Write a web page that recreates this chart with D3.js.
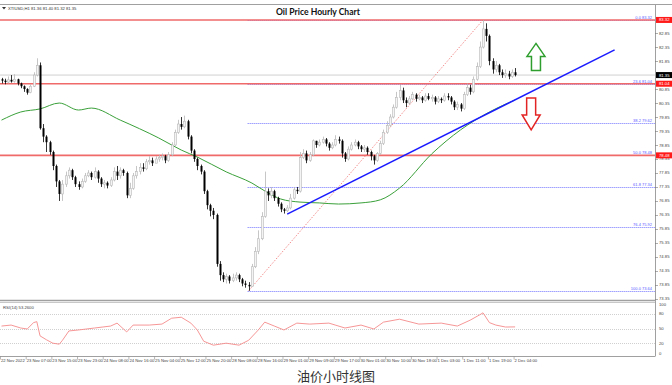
<!DOCTYPE html>
<html>
<head>
<meta charset="utf-8">
<script src="https://cdn.jsdelivr.net/npm/d3@7"></script>
<style>
  body { margin: 0; background: #fff; }
  svg { display: block; font-family: "Liberation Sans", Arial, sans-serif; }
</style>
</head>
<body>
<div id="chart"></div>
<script>
// hourly XTIUSD candles, open = previous close
var firstOpen = 81.20;
var closes = [
  81.15, 81.10, 81.18, 81.12, 81.20, 81.05, 80.95, 80.85, 80.72, 80.95,
  81.35, 81.70, 79.45, 79.15, 78.95, 78.60, 78.10, 77.55, 77.10, 77.45,
  77.75, 77.95, 77.70, 77.45, 77.35, 77.55, 77.75, 77.85, 77.70, 77.90,
  77.65, 77.45, 77.50, 77.40, 77.60, 77.90, 77.75, 77.95, 77.85, 77.05,
  77.30, 77.75, 77.90, 78.05, 78.00, 78.25, 78.30, 78.20, 78.35, 78.40,
  78.45, 78.30, 78.50, 78.85, 79.30, 79.60, 79.50, 79.70, 79.15, 78.65,
  78.35, 78.10, 77.90, 77.20, 76.70, 76.50, 76.35, 74.60, 74.20, 74.05,
  74.15, 74.00, 74.10, 74.20, 74.05, 73.90, 73.85, 73.80, 74.50, 75.05,
  75.50, 76.30, 77.20, 77.05, 77.20, 76.95, 76.75, 76.55, 76.50, 76.60,
  76.95, 77.25, 77.20, 78.40, 78.55, 78.30, 78.50, 79.00, 78.85, 78.95,
  79.05, 78.90, 78.75, 78.85, 79.05, 79.00, 78.55, 78.35, 78.70, 78.85,
  78.95, 78.80, 78.70, 78.75, 78.60, 78.45, 78.30, 78.55, 78.90, 79.30,
  79.55, 79.85, 80.20, 80.55, 80.80, 80.45, 80.35, 80.50, 80.65, 80.50,
  80.55, 80.45, 80.60, 80.50, 80.55, 80.40, 80.50, 80.45, 80.60, 80.55,
  80.40, 80.20, 80.30, 80.15, 80.65, 80.90, 80.75, 81.20, 81.65, 82.35,
  83.00, 82.75, 81.85, 81.55, 81.70, 81.45, 81.35, 81.40, 81.30, 81.45,
  81.35
];
var highs = [
  81.25, 81.22, 81.30, 81.35, 81.38, 81.22, 81.08, 80.98, 80.88, 81.02,
  81.45, 81.95, 81.80, 79.60, 79.20, 79.00, 78.65, 78.15, 77.60, 77.60,
  77.90, 78.05, 78.00, 77.75, 77.55, 77.65, 77.85, 77.95, 77.90, 78.05,
  77.95, 77.70, 77.60, 77.55, 77.70, 78.05, 78.10, 78.05, 78.00, 77.90,
  77.50, 77.85, 78.10, 78.20, 78.20, 78.35, 78.45, 78.40, 78.45, 78.50,
  78.55, 78.50, 78.60, 78.95, 79.40, 79.75, 79.85, 79.90, 79.75, 79.20,
  78.70, 78.40, 78.15, 77.95, 77.25, 76.75, 76.60, 76.40, 74.70, 74.30,
  74.25, 74.20, 74.25, 74.30, 74.25, 74.10, 74.00, 73.95, 74.60, 75.20,
  75.80, 76.45, 77.90, 77.30, 77.35, 77.25, 77.00, 76.80, 76.60, 76.70,
  77.10, 77.35, 77.35, 78.60, 78.70, 78.65, 78.60, 79.05, 79.00, 79.05,
  79.15, 79.10, 78.95, 78.95, 79.20, 79.15, 79.05, 78.60, 78.80, 78.95,
  79.05, 79.00, 78.85, 78.85, 78.80, 78.65, 78.50, 78.60, 79.00, 79.40,
  79.70, 79.95, 80.30, 80.75, 81.00, 80.90, 80.55, 80.60, 80.75, 80.70,
  80.65, 80.60, 80.70, 80.70, 80.65, 80.60, 80.60, 80.55, 80.70, 80.70,
  80.60, 80.45, 80.40, 80.35, 80.75, 81.05, 81.00, 81.30, 81.80, 82.55,
  83.32, 83.20, 82.80, 81.95, 81.85, 81.75, 81.55, 81.55, 81.50, 81.55,
  81.60
];
var lows = [
  81.05, 81.02, 81.05, 81.08, 81.08, 80.98, 80.88, 80.75, 80.65, 80.70,
  80.92, 81.30, 79.40, 78.95, 78.60, 78.50, 77.95, 77.35, 76.85, 76.85,
  77.35, 77.65, 77.60, 77.35, 77.25, 77.30, 77.50, 77.70, 77.60, 77.65,
  77.50, 77.35, 77.30, 77.30, 77.35, 77.55, 77.60, 77.65, 77.75, 76.95,
  76.95, 77.25, 77.65, 77.80, 77.90, 77.95, 78.15, 78.10, 78.20, 78.25,
  78.30, 78.20, 78.25, 78.45, 78.80, 79.25, 79.40, 79.45, 79.05, 78.55,
  78.25, 77.95, 77.80, 77.10, 76.55, 76.30, 76.20, 74.50, 74.00, 73.95,
  73.90, 73.90, 73.95, 74.00, 73.95, 73.80, 73.75, 73.64, 73.80, 74.45,
  74.95, 75.45, 76.25, 76.85, 76.95, 76.85, 76.65, 76.45, 76.40, 76.45,
  76.55, 76.90, 77.10, 77.15, 78.35, 78.20, 78.25, 78.45, 78.75, 78.80,
  78.90, 78.80, 78.65, 78.70, 78.80, 78.90, 78.40, 78.25, 78.30, 78.65,
  78.80, 78.70, 78.60, 78.60, 78.50, 78.30, 78.15, 78.25, 78.50, 78.85,
  79.25, 79.50, 79.80, 80.15, 80.45, 80.35, 80.20, 80.30, 80.45, 80.40,
  80.45, 80.35, 80.40, 80.45, 80.40, 80.30, 80.35, 80.35, 80.40, 80.45,
  80.30, 80.10, 80.10, 80.05, 80.10, 80.60, 80.65, 80.70, 81.15, 81.60,
  82.30, 82.55, 81.70, 81.40, 81.45, 81.35, 81.25, 81.25, 81.20, 81.25,
  81.30
];

// green moving average, read at a few bars
var maBars   = [0, 6, 12, 18, 24, 28, 37, 49, 56, 61, 70, 78, 83, 87, 93, 99, 105, 112, 118, 124, 134, 143, 152, 160];
var maValues = [79.74, 80.03, 80.14, 80.35, 80.10, 80.17, 79.74, 79.10, 78.67, 78.42, 77.89, 77.49, 77.14, 76.92, 76.81, 76.78, 76.74, 76.78, 76.89, 77.31, 78.53, 79.39, 80.03, 80.46];

// RSI(14), read at a few bars
var rsiBars   = [0, 3, 6, 8, 10, 11, 12, 14, 16, 18, 19, 21, 24, 29, 34, 36, 39, 41, 46, 50, 53, 56, 59, 61, 63, 66, 70, 74, 77, 80, 82, 85, 88, 92, 96, 102, 107, 112, 116, 119, 124, 130, 137, 142, 146, 149, 150, 152, 154, 157, 160];
var rsiValues = [55, 57, 51, 49, 62, 64, 35, 27, 20, 18, 26, 45, 47, 51, 55, 61, 43, 57, 57, 59, 71, 73, 61, 47, 24, 16, 20, 16, 26, 47, 63, 55, 47, 61, 59, 61, 51, 57, 49, 63, 69, 59, 61, 55, 67, 78, 82, 62, 57, 53, 53.26];

// fibonacci swing: low bar 77, high bar 150
var fibLow = { bar: 77, price: 73.64 };
var fibHigh = { bar: 150, price: 83.32 };
var fibRatios = [0.0, 23.6, 38.2, 50.0, 61.8, 76.4, 100.0];
var redLevels = [83.32, 81.04, 78.48];
var lastPrice = 81.35;

// trend line (bar, price)
var trendStart = { bar: 89, price: 76.38 };
var trendEnd = { bar: 191, price: 82.25 };

var priceTicks = [73.35, 73.85, 74.35, 74.85, 75.35, 75.85, 76.35, 76.85, 77.35, 77.85, 78.35, 78.85, 79.35, 79.85, 80.35, 80.85, 81.85, 82.35, 82.85];
var rsiTicks = [0, 20, 50, 80, 100];
var timeLabels = ["22 Nov 2022", "23 Nov 07:00", "23 Nov 15:00", "23 Nov 23:00", "24 Nov 08:00", "24 Nov 16:00",
  "25 Nov 04:00", "25 Nov 12:00", "25 Nov 20:00", "28 Nov 08:00", "28 Nov 16:00", "29 Nov 01:00", "29 Nov 09:00",
  "29 Nov 17:00", "30 Nov 01:00", "30 Nov 10:00", "30 Nov 18:00", "1 Dec 03:00", "1 Dec 11:00", "1 Dec 19:00", "2 Dec 04:00"];

var W = 672, H = 385;
var plotRight = 655;

var svg = d3.select("#chart").append("svg")
    .attr("width", W)
    .attr("height", H);

svg.append("rect").attr("width", W).attr("height", H).attr("fill", "#fff");

var x = d3.scaleLinear().domain([0, 160]).range([1.5, 515.1]);
var y = d3.scaleLinear().domain([73.31, 83.89]).range([300, 4]);
var yr = d3.scaleLinear().domain([0, 100]).range([353, 304]);

// candles data table
var candles = closes.map(function(c, i) {
    return { i: i, o: i === 0 ? firstOpen : closes[i - 1], h: highs[i], l: lows[i], c: c };
});

// panel frames
svg.append("line").attr("x1", 0).attr("x2", W).attr("y1", 4.5).attr("y2", 4.5)
    .attr("stroke", "#a0a0a0");
svg.append("line").attr("x1", 0).attr("x2", plotRight).attr("y1", 300.5).attr("y2", 300.5)
    .attr("stroke", "#a0a0a0").attr("stroke-width", 1.5);
svg.append("line").attr("x1", 0).attr("x2", plotRight).attr("y1", 302.5).attr("y2", 302.5)
    .attr("stroke", "#c8c8c8");
svg.append("line").attr("x1", 0).attr("x2", plotRight).attr("y1", 356.5).attr("y2", 356.5)
    .attr("stroke", "#a0a0a0");
svg.append("line").attr("x1", plotRight + 0.5).attr("x2", plotRight + 0.5).attr("y1", 4.5).attr("y2", 356.5)
    .attr("stroke", "#a0a0a0");

// header and title
svg.append("text").attr("x", 8).attr("y", 10).attr("font-size", 4.2).attr("fill", "#333")
    .text("XTIUSD,H1  81.36 81.40 81.32 81.35");
svg.append("path").attr("d", "M2,7 L6,7 L4,9.5 Z").attr("fill", "#333");
svg.append("text").attr("x", 318).attr("y", 15).attr("text-anchor", "middle")
    .attr("font-family", "Lato, sans-serif").attr("font-weight", "bold").attr("font-size", 8.6)
    .attr("fill", "#111").text("Oil Price Hourly Chart");

// last price grey line
svg.append("line").attr("x1", 0).attr("x2", plotRight).attr("y1", y(lastPrice)).attr("y2", y(lastPrice))
    .attr("stroke", "#d0d0d0").attr("stroke-width", 1);

// fib lines
var fibs = fibRatios.map(function(r) {
    return { r: r, p: fibHigh.price - (fibHigh.price - fibLow.price) * r / 100 };
});
svg.selectAll(".fib").data(fibs).enter().append("line")
    .attr("class", "fib")
    .attr("x1", x(fibLow.bar) - 1).attr("x2", plotRight)
    .attr("y1", function(d) { return Math.round(y(d.p)) + 0.5; })
    .attr("y2", function(d) { return Math.round(y(d.p)) + 0.5; })
    .attr("stroke", "#7070ff").attr("stroke-width", 1).attr("stroke-dasharray", "1,1");

// red horizontal levels
svg.selectAll(".lvl").data(redLevels).enter().append("line")
    .attr("x1", 0).attr("x2", plotRight)
    .attr("y1", function(d) { return y(d); }).attr("y2", function(d) { return y(d); })
    .attr("stroke", "#f06a6a").attr("stroke-width", 1.6);

svg.selectAll(".fibLabel").data(fibs).enter().append("text")
    .attr("x", plotRight - 3)
    .attr("y", function(d) { return Math.round(y(d.p)) - 0.8; })
    .attr("text-anchor", "end").attr("font-size", 4).attr("fill", "#5a5aff")
    .text(function(d) { return d.r.toFixed(1) + " " + d.p.toFixed(2); });

// fib diagonal
svg.append("line")
    .attr("x1", x(fibLow.bar)).attr("y1", y(fibLow.price))
    .attr("x2", x(fibHigh.bar)).attr("y2", y(fibHigh.price))
    .attr("stroke", "#f07070").attr("stroke-width", 0.8).attr("stroke-dasharray", "1.5,1.5");

// moving average
var maLine = d3.line()
    .x(function(d) { return x(d[0]); })
    .y(function(d) { return y(d[1]); })
    .curve(d3.curveMonotoneX);
svg.append("path")
    .datum(maBars.map(function(b, k) { return [b, maValues[k]]; }))
    .attr("d", maLine)
    .attr("fill", "none").attr("stroke", "#3aa03a").attr("stroke-width", 1);

// candles
var up = function(d) { return d.c >= d.o; };
svg.selectAll(".wick").data(candles).enter().append("line")
    .attr("x1", function(d) { return Math.round(x(d.i)) + 0.5; })
    .attr("x2", function(d) { return Math.round(x(d.i)) + 0.5; })
    .attr("y1", function(d) { return y(d.h); })
    .attr("y2", function(d) { return y(d.l); })
    .attr("stroke", function(d) { return up(d) ? "#b8b8b8" : "#000"; })
    .attr("stroke-width", 0.8);
svg.selectAll(".body").data(candles).enter().append("rect")
    .attr("x", function(d) { return Math.round(x(d.i)) - 0.5; })
    .attr("width", 2)
    .attr("y", function(d) { return y(Math.max(d.o, d.c)); })
    .attr("height", function(d) { return Math.max(0.8, Math.abs(y(d.o) - y(d.c))); })
    .attr("fill", function(d) { return up(d) ? "#f4f4f4" : "#000"; })
    .attr("stroke", function(d) { return up(d) ? "#b8b8b8" : "none"; })
    .attr("stroke-width", 0.6);

// blue trend line
svg.append("line")
    .attr("x1", x(trendStart.bar)).attr("y1", y(trendStart.price))
    .attr("x2", x(trendEnd.bar)).attr("y2", y(trendEnd.price))
    .attr("stroke", "#1a1aff").attr("stroke-width", 1.5);

// arrows: tip point, direction, head and total length in px
function arrow(cx, tipY, dir, headLen, totalLen, color) {
    var hw = 9, sw = 4.5, head = headLen * dir, len = totalLen * dir;
    var d = "M" + cx + "," + tipY +
        " L" + (cx + hw) + "," + (tipY + head) +
        " L" + (cx + sw) + "," + (tipY + head) +
        " L" + (cx + sw) + "," + (tipY + len) +
        " L" + (cx - sw) + "," + (tipY + len) +
        " L" + (cx - sw) + "," + (tipY + head) +
        " L" + (cx - hw) + "," + (tipY + head) + " Z";
    svg.append("path").attr("d", d).attr("fill", "#fff").attr("stroke", color).attr("stroke-width", 1.5);
}
arrow(x(166.5), y(82.48), 1, 13, 27, "#2e9e2e");
arrow(x(165), y(79.39), -1, 15, 32, "#e32424");

// right price axis
var axisG = svg.append("g");
axisG.selectAll(".pt").data(priceTicks).enter().append("line")
    .attr("x1", plotRight).attr("x2", plotRight + 3)
    .attr("y1", function(d) { return Math.round(y(d)) + 0.5; })
    .attr("y2", function(d) { return Math.round(y(d)) + 0.5; })
    .attr("stroke", "#777").attr("stroke-width", 0.6);
axisG.selectAll(".pl").data(priceTicks).enter().append("text")
    .attr("x", plotRight + 4).attr("y", function(d) { return y(d) + 1.5; })
    .attr("font-size", 4.2).attr("fill", "#444")
    .text(function(d) { return d.toFixed(2); });

var boxes = redLevels.map(function(p) { return { p: p, c: "#ff1a1a" }; })
    .concat([{ p: lastPrice, c: "#000" }]);
axisG.selectAll(".box").data(boxes).enter().append("rect")
    .attr("x", plotRight + 1).attr("width", W - plotRight - 1)
    .attr("y", function(d) { return y(d.p) - 3; }).attr("height", 6)
    .attr("fill", function(d) { return d.c; });
axisG.selectAll(".boxt").data(boxes).enter().append("text")
    .attr("x", plotRight + 4).attr("y", function(d) { return y(d.p) + 1.5; })
    .attr("font-size", 4.2).attr("fill", "#fff")
    .text(function(d) { return d.p.toFixed(2); });

// RSI panel
svg.selectAll(".rl").data([20, 50, 80]).enter().append("line")
    .attr("x1", 0).attr("x2", plotRight)
    .attr("y1", function(d) { return Math.round(yr(d)) + 0.5; })
    .attr("y2", function(d) { return Math.round(yr(d)) + 0.5; })
    .attr("stroke", "#c4c4c4").attr("stroke-width", 0.8).attr("stroke-dasharray", "1,1");
var rsiLine = d3.line()
    .x(function(d) { return x(d[0]); })
    .y(function(d) { return yr(d[1]); })
    .curve(d3.curveLinear);
svg.append("path")
    .datum(rsiBars.map(function(b, k) { return [b, rsiValues[k]]; }))
    .attr("d", rsiLine)
    .attr("fill", "none").attr("stroke", "#f58a8a").attr("stroke-width", 0.9);
svg.append("text").attr("x", 3).attr("y", 309).attr("font-size", 4.2).attr("fill", "#444")
    .text("RSI(14) 53.2600");
svg.selectAll(".rt").data(rsiTicks).enter().append("text")
    .attr("x", plotRight + 4).attr("y", function(d) { return yr(d) + 1.5; })
    .attr("font-size", 4.2).attr("fill", "#444")
    .text(function(d) { return d; });

// time axis
var tickBars = timeLabels.map(function(t, k) { return k * 8; });
var xAxis = d3.axisBottom(x)
    .tickValues(tickBars)
    .tickSize(3)
    .tickFormat(function(d, k) { return timeLabels[k]; });
var xg = svg.append("g").attr("transform", "translate(0,356.5)").call(xAxis);
xg.select(".domain").remove();
xg.selectAll(".tick line").attr("stroke", "#888").attr("stroke-width", 0.6)
    .attr("transform", "translate(-1.5,0)");
xg.selectAll(".tick text").attr("text-anchor", "start").attr("x", -1)
    .attr("dy", 0).attr("y", 5.3)
    .attr("font-size", 4.2).attr("font-family", "Liberation Sans, Arial, sans-serif").attr("fill", "#444");

// caption
svg.append("text").attr("x", 336).attr("y", 381).attr("text-anchor", "middle")
    .attr("font-family", "Noto Sans CJK SC, sans-serif").attr("font-size", 13).attr("fill", "#333")
    .text("油价小时线图");
</script>
</body>
</html>
